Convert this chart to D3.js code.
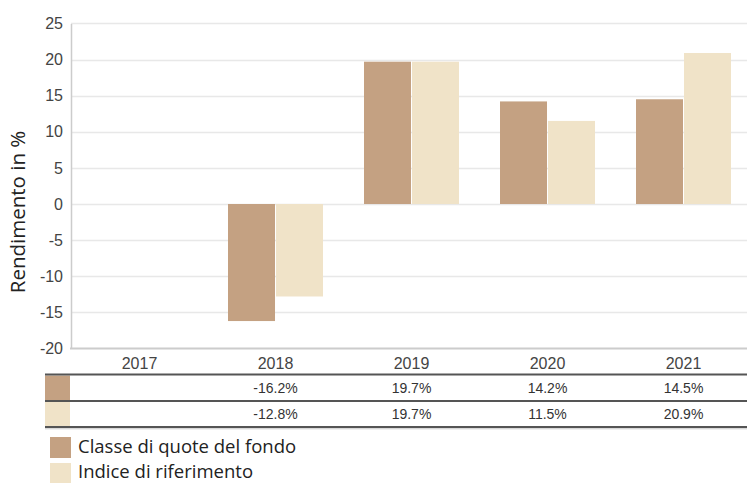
<!DOCTYPE html>
<html><head><meta charset="utf-8">
<script src="https://cdn.jsdelivr.net/npm/d3@7"></script>
<style>body{margin:0;background:#fff}svg{display:block}</style>
</head><body>
<svg id="c" width="747" height="483"></svg>
<script>
const years = ["2017","2018","2019","2020","2021"];
const fund = [null, -16.2, 19.7, 14.2, 14.5];
const bench = [null, -12.8, 19.7, 11.5, 20.9];
const seriesNames = ["Classe di quote del fondo","Indice di riferimento"];
const yTicks = [-20,-15,-10,-5,0,5,10,15,20,25];
const colors = ["#c4a182","#f0e3c8"];

const svg = d3.select("#c");
const x = d3.scaleBand().domain(years).range([71.5, 751.5]);
const sub = d3.scaleBand().domain([0,1]).range([20.5, 115.5]).paddingInner(1/48);
const y = d3.scaleLinear().domain([-20,25]).range([348.5, 23.4]);
const axisFont = "'Liberation Sans', Arial, sans-serif";
const uiFont = "'Open Sans', 'Noto Sans', sans-serif";

// gridlines
svg.append("g").selectAll("line").data(yTicks.filter(d=>d>-20)).join("line")
  .attr("x1",71).attr("x2",747).attr("y1",d=>Math.round(y(d))+0.5).attr("y2",d=>Math.round(y(d))+0.5)
  .attr("stroke","#e8e8e8").attr("stroke-width",1.5);

// y axis
const yAxis = svg.append("g").attr("transform","translate(71,0)")
  .call(d3.axisLeft(y).tickValues(yTicks).tickFormat(d=>String(d)).tickSize(0).tickPadding(8));
yAxis.select(".domain").attr("stroke","#cccccc").attr("stroke-width",1.5);
yAxis.selectAll("text").attr("font-family",axisFont).attr("font-size",16).attr("fill","#444");

// x axis line
svg.append("line").attr("x1",70).attr("x2",747).attr("y1",348.5).attr("y2",348.5)
  .attr("stroke","#cccccc").attr("stroke-width",2);

// bars
const data = [];
years.forEach((yr,i)=>{
  [fund[i],bench[i]].forEach((v,s)=>{ if(v!=null) data.push({yr,s,v}); });
});
svg.append("g").selectAll("rect").data(data).join("rect")
  .attr("x",d=>x(d.yr)+sub(d.s))
  .attr("width",sub.bandwidth())
  .attr("y",d=>Math.min(y(d.v),y(0)))
  .attr("height",d=>Math.abs(y(d.v)-y(0)))
  .attr("fill",d=>colors[d.s]);

// x labels
const xAxis = svg.append("g").attr("transform","translate(0,353)")
  .call(d3.axisBottom(x).tickSize(0).tickPadding(5));
xAxis.select(".domain").remove();
xAxis.selectAll("text").attr("font-family",axisFont).attr("font-size",16).attr("fill","#444")
  .attr("dy","0.71em");

// axis title
svg.append("text").attr("transform","translate(25,212) rotate(-90)")
  .attr("text-anchor","middle").attr("font-family",uiFont).attr("font-size",20.5).attr("fill","#222")
  .text("Rendimento in %");

// table
const rowTop = [375.5, 402];
colors.forEach((c,s)=>{
  svg.append("rect").attr("x",45).attr("y",rowTop[s]).attr("width",25).attr("height",25).attr("fill",c);
});
[374.5, 401, 427].forEach(yy=>{
  svg.append("line").attr("x1",45).attr("x2",747).attr("y1",yy).attr("y2",yy)
    .attr("stroke","#555").attr("stroke-width",1.8);
});
svg.append("line").attr("x1",45).attr("x2",747).attr("y1",428.8).attr("y2",428.8)
  .attr("stroke","#c8c8c8").attr("stroke-width",1);
[fund,bench].forEach((arr,s)=>{
  svg.append("g").selectAll("text").data(years.map((yr,i)=>({yr,v:arr[i]})).filter(d=>d.v!=null)).join("text")
    .attr("x",d=>x(d.yr)+x.bandwidth()/2).attr("y",rowTop[s]+17)
    .attr("text-anchor","middle").attr("font-family",axisFont).attr("font-size",14).attr("fill","#333")
    .text(d=>d.v.toFixed(1)+"%");
});

// legend
const lg = svg.append("g");
seriesNames.forEach((n,s)=>{
  lg.append("rect").attr("x",50).attr("y",437+s*26).attr("width",21).attr("height",21).attr("fill",colors[s]);
  lg.append("text").attr("x",78).attr("y",452.5+s*25.2).attr("font-family",uiFont).attr("font-size",18.5)
    .attr("fill","#222").text(n);
});
</script>
</body></html>
